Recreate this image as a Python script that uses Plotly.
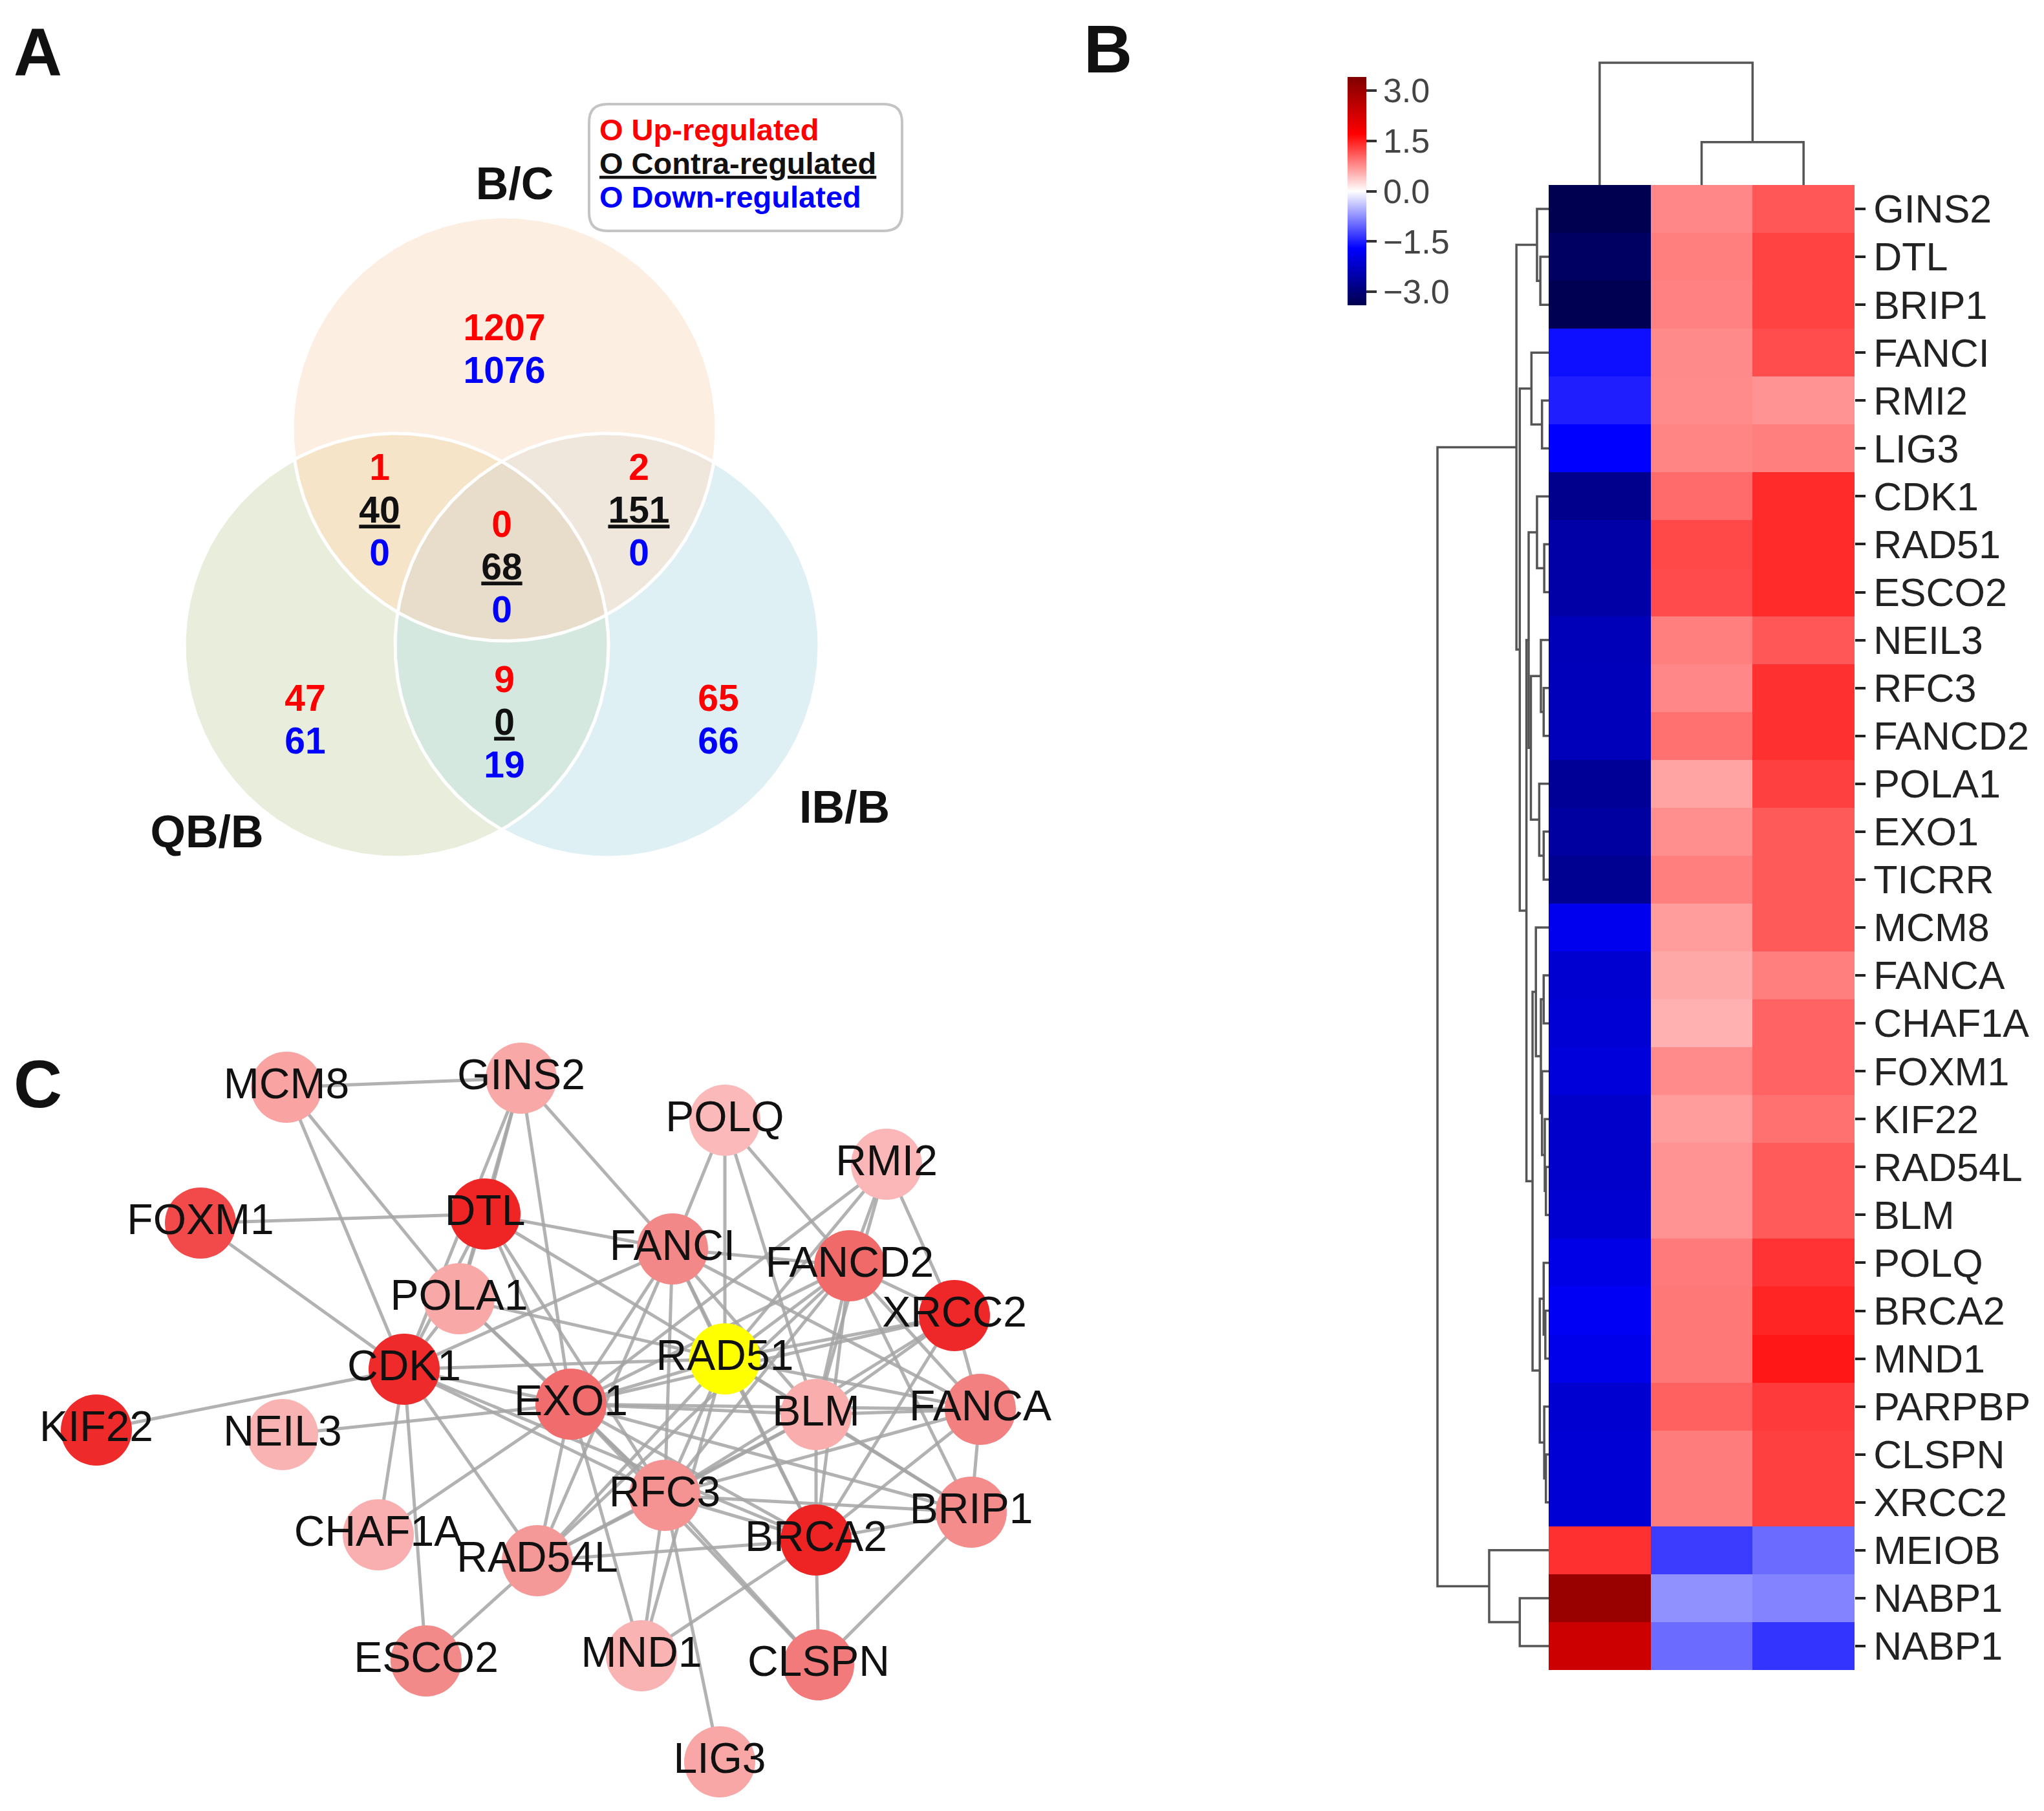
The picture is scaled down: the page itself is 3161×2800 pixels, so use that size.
import numpy as np
import plotly.graph_objects as go

W, H = 3161, 2800
FONT = "Liberation Sans, Arial, sans-serif"

# ---------------- Panel A data (Venn) ----------------
venn_sets = ["B/C", "QB/B", "IB/B"]
venn_regions = [("B/C",), ("QB/B",), ("IB/B",), ("B/C", "QB/B"), ("B/C", "IB/B"),
                ("QB/B", "IB/B"), ("B/C", "QB/B", "IB/B")]
venn_up = [1207, 47, 65, 1, 2, 9, 0]
venn_contra = [None, None, None, 40, 151, 0, 68]
venn_down = [1076, 61, 66, 0, 0, 19, 0]
legend_labels = ["O Up-regulated", "O Contra-regulated", "O Down-regulated"]

# ---------------- Panel B data (heatmap) ----------------
genes = ["GINS2", "DTL", "BRIP1", "FANCI", "RMI2", "LIG3", "CDK1", "RAD51", "ESCO2",
         "NEIL3", "RFC3", "FANCD2", "POLA1", "EXO1", "TICRR", "MCM8", "FANCA", "CHAF1A",
         "FOXM1", "KIF22", "RAD54L", "BLM", "POLQ", "BRCA2", "MND1", "PARPBP", "CLSPN",
         "XRCC2", "MEIOB", "NABP1", "NABP1"]
col_1 = [-3.37, -3.2, -3.35, -1.6, -1.5, -1.7, -2.8, -2.55, -2.55, -2.38, -2.35, -2.35,
         -2.7, -2.6, -2.75, -1.85, -2.14, -2.1, -2.05, -2.2, -2.2, -2.15, -1.94, -1.8,
         -1.9, -2.14, -2.1, -2.1, 1.38, 3.06, 2.38]
col_2 = [0.8, 0.85, 0.84, 0.78, 0.77, 0.82, 0.99, 1.22, 1.2, 0.85, 0.8, 0.95, 0.61,
         0.75, 0.85, 0.66, 0.58, 0.53, 0.77, 0.66, 0.72, 0.72, 0.88, 0.9, 0.9, 1.05,
         0.87, 0.87, -1.3, -0.74, -0.99]
col_3 = [1.12, 1.26, 1.26, 1.19, 0.72, 0.85, 1.42, 1.42, 1.42, 1.12, 1.38, 1.38, 1.27,
         1.1, 1.1, 1.1, 0.85, 1.04, 1.04, 0.95, 1.09, 1.09, 1.36, 1.45, 1.55, 1.31,
         1.27, 1.27, -0.99, -0.83, -1.35]
# hierarchical clustering trees: (merge height, left, right), leaves = row/col index
row_tree = (10.0,
            (2.9,
             (1.05, 0, (0.75, 1, 2)),
             (2.6,
              (1.55, 3, (0.6, 4, 5)),
              (2.0,
               (1.8,
                (1.05, 6, (0.4, 7, 8)),
                (1.6,
                 (0.7, 9, (0.45, 10, 11)),
                 (0.85, 12, (0.45, 13, 14)))),
               (1.45,
                (1.15, 15, (0.7, (0.45, 16, 17), (0.6, 18, (0.35, 19, (0.25, 20, 21))))),
                (0.8, (0.45, 22, (0.3, 23, 24)), (0.4, 25, (0.25, 26, 27))))))),
            (5.35, 28, (2.6, 29, 30)))
col_tree = (10.0, 0, (3.5, 1, 2))
cbar_vals = [3.0, 1.5, 0.0, -1.5, -3.0]
cbar_text = ["3.0", "1.5", "0.0", "\u22121.5", "\u22123.0"]

# ---------------- Panel C data (network) ----------------
node_names = ["MCM8", "GINS2", "POLQ", "RMI2", "FOXM1", "DTL", "FANCI", "FANCD2", "XRCC2",
              "POLA1", "CDK1", "RAD51", "EXO1", "BLM", "FANCA", "KIF22", "NEIL3", "RFC3",
              "BRIP1", "CHAF1A", "RAD54L", "BRCA2", "ESCO2", "MND1", "CLSPN", "LIG3"]
edges = [
    ("MCM8", "GINS2"), ("MCM8", "CDK1"), ("MCM8", "POLA1"),
    ("GINS2", "DTL"), ("GINS2", "POLA1"), ("GINS2", "CDK1"), ("GINS2", "EXO1"), ("GINS2", "FANCI"),
    ("FOXM1", "DTL"), ("FOXM1", "CDK1"), ("KIF22", "CDK1"), ("NEIL3", "EXO1"),
    ("DTL", "POLA1"), ("DTL", "CDK1"), ("DTL", "FANCI"), ("DTL", "RAD51"), ("DTL", "EXO1"), ("DTL", "RFC3"),
    ("POLQ", "FANCI"), ("POLQ", "RAD51"), ("POLQ", "BLM"), ("POLQ", "FANCD2"),
    ("RMI2", "FANCD2"), ("RMI2", "XRCC2"), ("RMI2", "EXO1"), ("RMI2", "RAD51"), ("RMI2", "BLM"),
    ("FANCI", "FANCD2"), ("FANCI", "RAD51"), ("FANCI", "EXO1"), ("FANCI", "CDK1"), ("FANCI", "RFC3"),
    ("FANCI", "RAD54L"), ("FANCI", "BRCA2"), ("FANCI", "BLM"), ("FANCI", "FANCA"),
    ("FANCD2", "RAD51"), ("FANCD2", "EXO1"), ("FANCD2", "BLM"), ("FANCD2", "RFC3"), ("FANCD2", "BRCA2"),
    ("FANCD2", "XRCC2"), ("FANCD2", "FANCA"), ("FANCD2", "BRIP1"), ("FANCD2", "RAD54L"),
    ("XRCC2", "RAD51"), ("XRCC2", "EXO1"), ("XRCC2", "FANCA"), ("XRCC2", "BRCA2"), ("XRCC2", "RFC3"), ("XRCC2", "BLM"),
    ("CDK1", "POLA1"), ("CDK1", "EXO1"), ("CDK1", "RAD51"), ("CDK1", "RFC3"), ("CDK1", "CHAF1A"),
    ("CDK1", "ESCO2"), ("CDK1", "RAD54L"), ("CDK1", "BRCA2"),
    ("POLA1", "EXO1"), ("POLA1", "RFC3"), ("POLA1", "RAD51"),
    ("EXO1", "RAD51"), ("EXO1", "BLM"), ("EXO1", "FANCA"), ("EXO1", "RFC3"), ("EXO1", "RAD54L"),
    ("EXO1", "MND1"), ("EXO1", "BRCA2"), ("EXO1", "CHAF1A"), ("EXO1", "BRIP1"), ("EXO1", "CLSPN"),
    ("RAD51", "BLM"), ("RAD51", "RFC3"), ("RAD51", "BRCA2"), ("RAD51", "RAD54L"), ("RAD51", "FANCA"),
    ("RAD51", "BRIP1"), ("RAD51", "MND1"),
    ("BLM", "FANCA"), ("BLM", "BRCA2"), ("BLM", "RFC3"), ("BLM", "BRIP1"), ("BLM", "RAD54L"),
    ("FANCA", "BRIP1"), ("FANCA", "BRCA2"), ("FANCA", "RFC3"),
    ("BRIP1", "BRCA2"), ("BRIP1", "CLSPN"), ("BRIP1", "RFC3"),
    ("RFC3", "RAD54L"), ("RFC3", "BRCA2"), ("RFC3", "MND1"), ("RFC3", "LIG3"), ("RFC3", "CLSPN"),
    ("RAD54L", "BRCA2"), ("RAD54L", "ESCO2"),
    ("BRCA2", "CLSPN"), ("BRCA2", "MND1"),
]

# ================= layout / style (positions in page pixels) =================
node_pos = {
    "MCM8": (435, 1673), "GINS2": (798, 1659), "POLQ": (1113, 1724), "RMI2": (1363, 1792),
    "FOXM1": (302, 1883), "DTL": (742, 1869), "FANCI": (1032, 1923), "FANCD2": (1306, 1949),
    "XRCC2": (1468, 2026), "POLA1": (702, 2000), "CDK1": (617, 2109), "RAD51": (1113, 2093),
    "EXO1": (875, 2163), "BLM": (1254, 2179), "FANCA": (1508, 2171), "KIF22": (141, 2203),
    "NEIL3": (429, 2210), "RFC3": (1020, 2304), "BRIP1": (1494, 2330), "CHAF1A": (577, 2365),
    "RAD54L": (823, 2405), "BRCA2": (1254, 2373), "ESCO2": (651, 2560), "MND1": (984, 2552),
    "CLSPN": (1258, 2566), "LIG3": (1105, 2716)}
node_color = {
    "MCM8": "#f9a3a3", "GINS2": "#f9a8a8", "POLQ": "#fbb9b9", "RMI2": "#fbb7b7",
    "FOXM1": "#f24a4a", "DTL": "#ef2424", "FANCI": "#f38888", "FANCD2": "#f16a6a",
    "XRCC2": "#ee2828", "POLA1": "#f9a8a8", "CDK1": "#ee2a2a", "RAD51": "#ffff00",
    "EXO1": "#f16c6c", "BLM": "#f9adad", "FANCA": "#f28080", "KIF22": "#ee2a2a",
    "NEIL3": "#f9b3b3", "RFC3": "#f59393", "BRIP1": "#f48c8c", "CHAF1A": "#f9afaf",
    "RAD54L": "#f59898", "BRCA2": "#ee2424", "ESCO2": "#f38a8a", "MND1": "#f9b3b3",
    "CLSPN": "#f27a7a", "LIG3": "#f8a6a6"}

circ_c = {"B/C": (772, 655), "QB/B": (605, 990), "IB/B": (931, 990)}
circ_r = 328
region_color = {
    ("B/C",): "#fdeee2", ("QB/B",): "#e8eedb", ("IB/B",): "#dff0f5",
    ("B/C", "QB/B"): "#f6e4c9", ("B/C", "IB/B"): "#efe6dc", ("QB/B", "IB/B"): "#d4e8e0",
    ("B/C", "QB/B", "IB/B"): "#e8ddcb"}
region_text_xy = {
    ("B/C",): (772, 504), ("QB/B",): (464, 1077), ("IB/B",): (1103, 1077),
    ("B/C", "QB/B"): (579, 720), ("B/C", "IB/B"): (980, 720),
    ("QB/B", "IB/B"): (772, 1048), ("B/C", "QB/B", "IB/B"): (768, 808)}
set_label_xy = {"B/C": (788, 282), "QB/B": (312, 1284), "IB/B": (1298, 1246)}
LINE = 66

fig = go.Figure()

# ---- Venn regions
theta = np.linspace(0, 2 * np.pi, 2161)


def circle_pts(name):
    cx, cy = circ_c[name]
    return np.c_[cx + circ_r * np.cos(theta), cy + circ_r * np.sin(theta)]


def inside(p, name):
    cx, cy = circ_c[name]
    return (p[:, 0] - cx) ** 2 + (p[:, 1] - cy) ** 2 <= circ_r ** 2 + 1e-6


def region_poly(names):
    pts = []
    for n in names:
        p = circle_pts(n)
        m = np.ones(len(p), bool)
        for o in names:
            if o != n:
                m &= inside(p, o)
        pts.append(p[m])
    P = np.vstack(pts)
    cen = P.mean(0)
    ang = np.arctan2(P[:, 1] - cen[1], P[:, 0] - cen[0])
    P = P[np.argsort(ang)]
    return np.vstack([P, P[:1]])


for reg in venn_regions:
    P = region_poly(reg)
    fig.add_trace(go.Scatter(x=P[:, 0], y=P[:, 1], mode="lines", fill="toself",
                             fillcolor=region_color[reg], line=dict(width=0),
                             hoverinfo="skip", xaxis="x", yaxis="y"))
for n in venn_sets:
    P = circle_pts(n)
    fig.add_trace(go.Scatter(x=P[:, 0], y=P[:, 1], mode="lines",
                             line=dict(color="white", width=5), hoverinfo="skip",
                             xaxis="x", yaxis="y"))

# ---- Venn numbers
tx = {"up": ([], [], []), "contra": ([], [], []), "down": ([], [], [])}
for reg, u, c, d in zip(venn_regions, venn_up, venn_contra, venn_down):
    x0, y0 = region_text_xy[reg]
    lines = [("up", str(u))]
    if c is not None:
        lines.append(("contra", "<u>%d</u>" % c))
    lines.append(("down", str(d)))
    for k, (kind, s) in enumerate(lines):
        tx[kind][0].append(x0)
        tx[kind][1].append(y0 + k * LINE)
        tx[kind][2].append(s)
kind_color = {"up": "#ff0000", "contra": "#111111", "down": "#0000ff"}
for kind, (xs, ys, ss) in tx.items():
    fig.add_trace(go.Scatter(x=xs, y=ys, text=ss, mode="text",
                             textfont=dict(family=FONT, size=57, color=kind_color[kind], weight="bold"),
                             hoverinfo="skip", xaxis="x", yaxis="y"))
fig.add_trace(go.Scatter(x=[set_label_xy[n][0] for n in venn_sets],
                         y=[set_label_xy[n][1] for n in venn_sets], text=venn_sets,
                         mode="text", textfont=dict(family=FONT, size=70, color="#111", weight="bold"),
                         hoverinfo="skip", xaxis="x", yaxis="y"))
# legend box
bx0, by0, bx1, by1, rr = 903, 153, 1387, 349, 28
fig.add_shape(type="path", xref="x", yref="y",
              path=(f"M {bx0+rr},{by0} L {bx1-rr},{by0} Q {bx1},{by0} {bx1},{by0+rr} "
                    f"L {bx1},{by1-rr} Q {bx1},{by1} {bx1-rr},{by1} L {bx0+rr},{by1} "
                    f"Q {bx0},{by1} {bx0},{by1-rr} L {bx0},{by0+rr} Q {bx0},{by0} {bx0+rr},{by0} Z"),
              line=dict(color="#c4c4c4", width=4), fillcolor="white", layer="below")
leg_text = [legend_labels[0], "<u>" + legend_labels[1] + "</u>", legend_labels[2]]
for k, (s, col) in enumerate(zip(leg_text, ["#ff0000", "#111111", "#0000ff"])):
    fig.add_trace(go.Scatter(x=[919], y=[197 + 52 * k], text=[s], mode="text",
                             textposition="middle right",
                             textfont=dict(family=FONT, size=47, color=col, weight="bold"),
                             hoverinfo="skip", xaxis="x", yaxis="y"))

# ---- Network
ex, ey = [], []
for a, b in edges:
    ex += [node_pos[a][0], node_pos[b][0], None]
    ey += [node_pos[a][1], node_pos[b][1], None]
fig.add_trace(go.Scatter(x=ex, y=ey, mode="lines",
                         line=dict(color="rgba(165,165,165,0.85)", width=5),
                         hoverinfo="skip", xaxis="x", yaxis="y"))
fig.add_trace(go.Scatter(x=[node_pos[n][0] for n in node_names],
                         y=[node_pos[n][1] for n in node_names], mode="markers",
                         marker=dict(size=110, color=[node_color[n] for n in node_names],
                                     line=dict(width=0)),
                         hoverinfo="skip", xaxis="x", yaxis="y"))
fig.add_trace(go.Scatter(x=[node_pos[n][0] for n in node_names],
                         y=[node_pos[n][1] for n in node_names], text=node_names,
                         mode="text", textfont=dict(family=FONT, size=66, color="#111"),
                         hoverinfo="skip", xaxis="x", yaxis="y"))

# ---- Heatmap
z = [[a, b, c] for a, b, c in zip(col_1, col_2, col_3)]
seismic = [[0.0, "rgb(0,0,77)"], [0.25, "rgb(0,0,255)"], [0.5, "rgb(255,255,255)"],
           [0.75, "rgb(255,0,0)"], [1.0, "rgb(128,0,0)"]]
fig.add_trace(go.Heatmap(
    z=z, x=[0, 1, 2], y=list(range(len(genes))), colorscale=seismic, zmin=-3.4, zmax=3.4,
    xaxis="x2", yaxis="y2", hoverinfo="skip",
    colorbar=dict(x=2076 / W, xanchor="left", xpad=0, y=1 - 111 / H, yanchor="top", ypad=0,
                  thickness=29, thicknessmode="pixels", len=353, lenmode="pixels",
                  outlinewidth=0, tickvals=cbar_vals, ticktext=cbar_text, ticks="outside",
                  ticklen=16, tickwidth=4, tickcolor="#333",
                  tickfont=dict(family=FONT, size=52, color="#444"))))


def dendro(tree):
    hs, ps = [], []

    def walk(node):
        if isinstance(node, int):
            return float(node), 0.0
        h, l, r = node
        pl, hl = walk(l)
        pr, hr = walk(r)
        hs.extend([hl, h, h, hr, None])
        ps.extend([pl, pl, pr, pr, None])
        return (pl + pr) / 2, h

    walk(tree)
    return hs, ps


rh, rp = dendro(row_tree)
fig.add_trace(go.Scatter(x=rh, y=rp, mode="lines", line=dict(color="#555", width=3.5),
                         hoverinfo="skip", xaxis="x3", yaxis="y3"))
ch, cp = dendro(col_tree)
fig.add_trace(go.Scatter(x=cp, y=ch, mode="lines", line=dict(color="#555", width=3.5),
                         hoverinfo="skip", xaxis="x4", yaxis="y4"))

hm_x0, hm_x1, hm_y0, hm_y1 = 2387, 2860, 278, 2574
hidden = dict(visible=False, showgrid=False, zeroline=False, fixedrange=True)
fig.update_layout(
    width=W, height=H, margin=dict(l=0, r=0, t=0, b=0, pad=0),
    paper_bgcolor="white", plot_bgcolor="white", showlegend=False,
    xaxis=dict(domain=[0, 1], range=[0, W], **hidden),
    yaxis=dict(domain=[0, 1], range=[H, 0], **hidden),
    xaxis2=dict(domain=[hm_x0 / W, hm_x1 / W], range=[-0.5, 2.5], anchor="y2", **hidden),
    yaxis2=dict(domain=[1 - hm_y1 / H, 1 - hm_y0 / H], range=[len(genes) - 0.5, -0.5],
                anchor="x2", side="right", tickvals=list(range(len(genes))), ticktext=genes,
                ticks="outside", ticklen=16, tickwidth=4, tickcolor="#222",
                tickfont=dict(family=FONT, size=61, color="#222"),
                showgrid=False, zeroline=False, showline=False, fixedrange=True),
    xaxis3=dict(domain=[(hm_x0 - 182) / W, hm_x0 / W], range=[10 * 182 / 172, 0],
                anchor="y3", **hidden),
    yaxis3=dict(domain=[1 - hm_y1 / H, 1 - hm_y0 / H], range=[len(genes) - 0.5, -0.5],
                anchor="x3", **hidden),
    xaxis4=dict(domain=[hm_x0 / W, hm_x1 / W], range=[-0.5, 2.5], anchor="y4", **hidden),
    yaxis4=dict(domain=[1 - hm_y0 / H, 1 - 80 / H], range=[0, 10 * 198 / 189],
                anchor="x4", **hidden),
)
for lab, (px, py) in {"A": (50, 72), "B": (1705, 68), "C": (50, 1668)}.items():
    fig.add_annotation(x=px / W, y=1 - py / H, xref="paper", yref="paper", text=lab,
                       showarrow=False, xanchor="center", yanchor="middle",
                       font=dict(family=FONT, size=104, color="#111", weight="bold"))

fig.write_html("out.html")
